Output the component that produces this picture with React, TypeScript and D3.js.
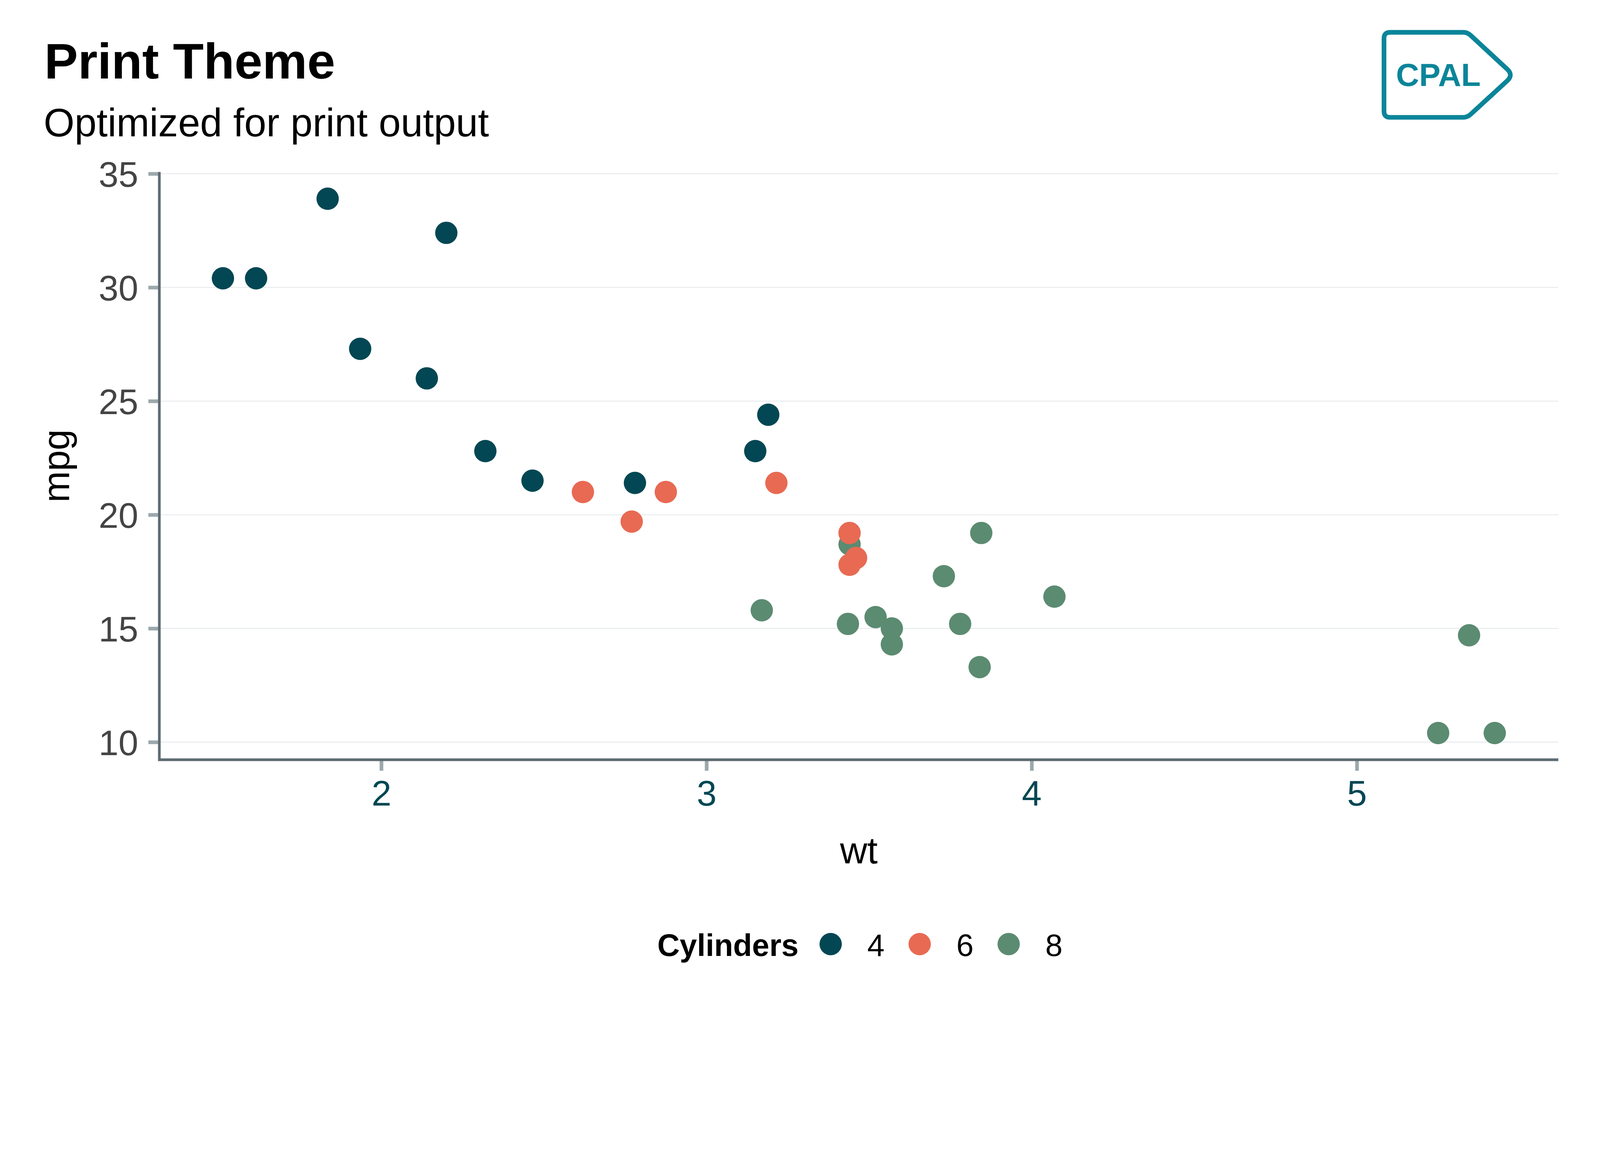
import { useEffect, useRef } from 'react';
import * as d3 from 'd3';

// mtcars: weight (1000 lbs), miles per gallon, cylinders
const wt = [
	2.62, 2.875, 2.32, 3.215, 3.44, 3.46, 3.57, 3.19, 3.15, 3.44, 3.44, 4.07, 3.73, 3.78, 5.25, 5.424,
	5.345, 2.2, 1.615, 1.835, 2.465, 3.52, 3.435, 3.84, 3.845, 1.935, 2.14, 1.513, 3.17, 2.77, 3.57, 2.78,
];
const mpg = [
	21.0, 21.0, 22.8, 21.4, 18.7, 18.1, 14.3, 24.4, 22.8, 19.2, 17.8, 16.4, 17.3, 15.2, 10.4, 10.4, 14.7,
	32.4, 30.4, 33.9, 21.5, 15.5, 15.2, 13.3, 19.2, 27.3, 26.0, 30.4, 15.8, 19.7, 15.0, 21.4,
];
const cyl = [6, 6, 4, 6, 8, 6, 8, 4, 4, 6, 6, 8, 8, 8, 8, 8, 8, 4, 4, 4, 4, 8, 8, 8, 8, 4, 4, 4, 8, 6, 8, 4];

const cylLevels = [4, 6, 8];
const cylColors = ['#024753', '#E86A53', '#5B8B71'];
const xTicks = [2, 3, 4, 5];
const yTicks = [10, 15, 20, 25, 30, 35];

const FONT = "'Liberation Sans', Arial, sans-serif";

export default function App() {
	const svgRef = useRef<SVGSVGElement>(null);

	useEffect(() => {
		if (!svgRef.current) return;
		document.body.style.margin = '0';

		const width = 4800;
		const height = 3000;
		const panel = { left: 478, right: 4675, top: 516, bottom: 2279 };

		// viewBox so the whole chart fits whatever the viewport turns out to be
		const svg = d3
			.select(svgRef.current)
			.attr('viewBox', `0 0 ${width} ${height}`)
			.attr('width', '100%');
		svg.selectAll('*').remove();

		svg.append('rect').attr('width', width).attr('height', height).attr('fill', '#ffffff');

		// ggplot-style 5% expansion
		const [xmin, xmax] = d3.extent(wt) as [number, number];
		const [ymin, ymax] = d3.extent(mpg) as [number, number];
		const xPad = (xmax - xmin) * 0.05;
		const yPad = (ymax - ymin) * 0.05;

		const x = d3.scaleLinear().domain([xmin - xPad, xmax + xPad]).range([panel.left, panel.right]);
		const y = d3.scaleLinear().domain([ymin - yPad, ymax + yPad]).range([panel.bottom, panel.top]);
		const color = d3.scaleOrdinal<number, string>().domain(cylLevels).range(cylColors);

		// Title block
		svg
			.append('text')
			.attr('x', 133)
			.attr('y', 236)
			.attr('font-family', FONT)
			.attr('font-weight', 'bold')
			.attr('font-size', 151)
			.attr('fill', '#000')
			.text('Print Theme');

		svg
			.append('text')
			.attr('x', 131)
			.attr('y', 409)
			.attr('font-family', FONT)
			.attr('font-size', 119)
			.attr('fill', '#000')
			.text('Optimized for print output');

		// Logo
		const logo = svg.append('g');
		logo
			.append('path')
			.attr(
				'd',
				'M4170,97 L4390,97 Q4402,97 4412,106 L4522,208 Q4540,225 4522,242 L4412,343 Q4402,352 4390,352 L4170,352 Q4152,352 4152,334 L4152,115 Q4152,97 4170,97 Z'
			)
			.attr('fill', 'none')
			.attr('stroke', '#0B8599')
			.attr('stroke-width', 14)
			.attr('stroke-linejoin', 'round');
		logo
			.append('text')
			.attr('x', 4188)
			.attr('y', 258)
			.attr('font-family', FONT)
			.attr('font-weight', 'bold')
			.attr('font-size', 96)
			.attr('fill', '#0B8599')
			.text('CPAL');

		// Grid lines
		svg
			.append('g')
			.selectAll('line')
			.data(yTicks)
			.enter()
			.append('line')
			.attr('x1', panel.left)
			.attr('x2', panel.right)
			.attr('y1', (d) => y(d))
			.attr('y2', (d) => y(d))
			.attr('stroke', '#E9ECEF')
			.attr('stroke-width', 3);

		// Y axis ticks + labels
		const yAxis = svg
			.append('g')
			.attr('transform', `translate(${panel.left},0)`)
			.call(d3.axisLeft(y).tickValues(yTicks).tickFormat(d3.format('d')).tickSize(33).tickPadding(30));
		yAxis.select('.domain').remove();
		yAxis.selectAll('line').attr('stroke', '#9CA8AC').attr('stroke-width', 11);
		yAxis
			.selectAll('text')
			.attr('font-family', FONT)
			.attr('font-size', 107)
			.attr('fill', '#444444')
			.attr('dy', '0.36em');

		// X axis ticks + labels
		const xAxis = svg
			.append('g')
			.attr('transform', `translate(0,${panel.bottom})`)
			.call(d3.axisBottom(x).tickValues(xTicks).tickFormat(d3.format('d')).tickSize(33).tickPadding(29));
		xAxis.select('.domain').remove();
		xAxis.selectAll('line').attr('stroke', '#9CA8AC').attr('stroke-width', 11);
		xAxis
			.selectAll('text')
			.attr('font-family', FONT)
			.attr('font-size', 107)
			.attr('fill', '#024753');

		// Axis lines
		svg
			.append('path')
			.attr('d', `M${panel.left},${panel.top} V${panel.bottom} H${panel.right}`)
			.attr('fill', 'none')
			.attr('stroke', '#5E6B73')
			.attr('stroke-width', 8);

		// Points
		svg
			.append('g')
			.selectAll('circle')
			.data(d3.range(wt.length))
			.enter()
			.append('circle')
			.attr('cx', (i) => x(wt[i]))
			.attr('cy', (i) => y(mpg[i]))
			.attr('r', 33.5)
			.attr('fill', (i) => color(cyl[i]));

		// Axis titles
		svg
			.append('text')
			.attr('x', (panel.left + panel.right) / 2)
			.attr('y', 2590)
			.attr('text-anchor', 'middle')
			.attr('font-family', FONT)
			.attr('font-size', 113)
			.attr('fill', '#000')
			.text('wt');

		svg
			.append('text')
			.attr('transform', `translate(207,${(panel.top + panel.bottom) / 2}) rotate(-90)`)
			.attr('text-anchor', 'middle')
			.attr('font-family', FONT)
			.attr('font-size', 113)
			.attr('fill', '#000')
			.text('mpg');

		// Legend
		const legend = svg.append('g');
		const legendY = 2867;
		const keyStart = 2492;
		const keyStep = 267;
		legend
			.append('text')
			.attr('x', 1972)
			.attr('y', legendY)
			.attr('font-family', FONT)
			.attr('font-weight', 'bold')
			.attr('font-size', 93)
			.attr('fill', '#000')
			.text('Cylinders');

		const items = legend
			.selectAll('.item')
			.data(cylLevels)
			.enter()
			.append('g')
			.attr('class', 'item')
			.attr('transform', (_, i) => `translate(${keyStart + i * keyStep},0)`);
		items
			.append('circle')
			.attr('cx', 0)
			.attr('cy', 2832)
			.attr('r', 33.5)
			.attr('fill', (d) => color(d));
		items
			.append('text')
			.attr('x', 110)
			.attr('y', legendY)
			.attr('font-family', FONT)
			.attr('font-size', 93)
			.attr('fill', '#000')
			.text((d) => String(d));
	}, []);

	return <svg ref={svgRef} style={{ display: 'block' }}></svg>;
}
